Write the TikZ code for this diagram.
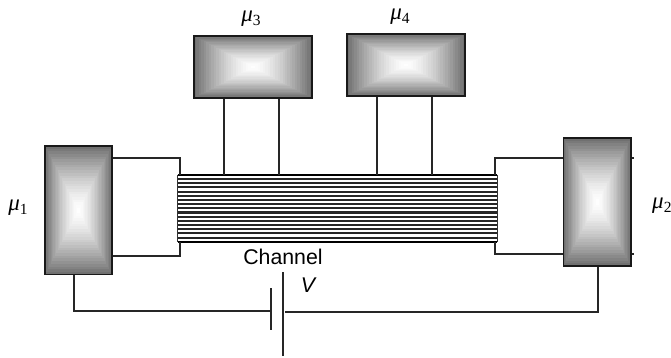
\documentclass[tikz,border=0pt]{standalone}
\usetikzlibrary{calc}
\usepackage{fontspec}
\setmainfont{Liberation Serif}
\setsansfont{Liberation Sans}
\newcommand\mulab[1]{{\fontsize{23}{24}\selectfont\itshape μ}\raisebox{-3.5pt}{\fontsize{15.5}{16}\selectfont #1}}
\begin{document}
\begin{tikzpicture}[x=1pt,y=-1pt,
  wire/.style={draw=black!85,line width=1.25pt},
  reservoir/.style={draw=black!90,line width=1.4pt,rectangle,inner sep=0pt,
    path picture={
      \foreach \k in {0,...,23}{
        \pgfmathsetmacro\f{1-\k/24}
        \pgfmathsetmacro\g{56*\f^1.5}
        \fill[black!\g!white]
          ($(path picture bounding box.center)!\f!(path picture bounding box.south west)$)
          rectangle
          ($(path picture bounding box.center)!\f!(path picture bounding box.north east)$);
      }}},
  lab/.style={inner sep=0pt,anchor=center},
  sanslab/.style={inner sep=0pt,anchor=center,font=\sffamily\fontsize{21.3}{22}\selectfont}]
\useasboundingbox (0,0) rectangle (671,357);
% reservoirs
\node[reservoir,minimum width=67pt,minimum height=128.5pt] (m1) at (78.5,210.3) {};
\node[reservoir,minimum width=67.5pt,minimum height=128pt] (m2) at (597.3,202) {};
\node[reservoir,minimum width=118pt,minimum height=62pt] (m3) at (253,67) {};
\node[reservoir,minimum width=118pt,minimum height=62pt] (m4) at (406,65) {};
% channel
\node[inner sep=0pt,minimum width=319pt,minimum height=67pt] (ch) at (337.5,208.5) {};
\foreach \i in {0,...,16}{
  \draw[black!85,line width=2.1pt] ($(ch.north west)+(0,\i*4.1875)$) -- ($(ch.north east)+(0,\i*4.1875)$);
}
\draw[black,line width=2.2pt] (ch.north west) -- (ch.north east);
\draw[black,line width=2.2pt] (ch.south west) -- (ch.south east);
\draw[black!80,line width=1.25pt] (ch.north west) -- (ch.south west);
\draw[black!80,line width=1.25pt] (ch.north east) -- (ch.south east);
% left and right leads
\coordinate (lu) at (180,158);
\coordinate (ll) at (180,256);
\coordinate (ru) at (495,158);
\coordinate (rl) at (495,254);
\draw[wire] (m1.east |- lu) -- (lu) -- (lu |- ch.north);
\draw[wire] (m1.east |- ll) -- (ll) -- (ll |- ch.south);
\draw[wire] (m2.west |- ru) -- (ru) -- (ru |- ch.north);
\draw[wire] (m2.west |- rl) -- (rl) -- (rl |- ch.south);
\draw[wire] (m2.east |- ru) -- +(2.5,0);
\draw[wire] (m2.east |- rl) -- +(2.5,0);
% top leads
\foreach \b/\x/\n in {m3/224/a,m3/279/b,m4/377/c,m4/432/d}{
  \coordinate (t\n) at (\x,175);
  \draw[wire] (\b.south -| t\n) -- (t\n |- ch.north);
}
% battery
\coordinate (pa) at (271,288);
\coordinate (pb) at (271,330);
\coordinate (qa) at (283,272);
\coordinate (qb) at (283,356);
\draw[wire] (pa) -- (pb);
\draw[wire] (qa) -- (qb);
\coordinate (bl) at (270,311);
\coordinate (br) at (285,312);
\draw[wire] (m1.south -| 74,0) -- (74,311) -- (bl);
\draw[wire] (m2.south -| 598,0) -- (598,312) -- (br);
% labels
\node[lab] (l1) at (18,208) {\mulab{1}};
\node[lab,anchor=west] (l2) at (652,206) {\mulab{2}};
\node[lab] (l3) at (251,19) {\mulab{3}};
\node[lab] (l4) at (400,17) {\mulab{4}};
\node[sanslab] (lc) at (283,257) {Channel};
\node[sanslab] (lv) at (308,285) {\itshape V};
\end{tikzpicture}
\end{document}
